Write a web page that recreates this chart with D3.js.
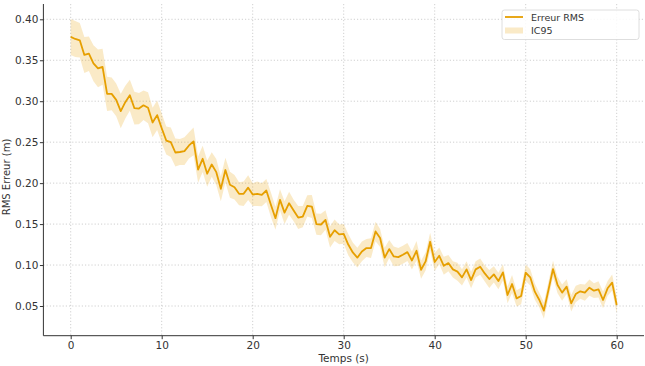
<!DOCTYPE html>
<html>
<head>
<meta charset="utf-8">
<script src="https://cdn.jsdelivr.net/npm/d3@7/dist/d3.min.js"></script>
<style>
  html, body { margin: 0; padding: 0; background: #fff; }
  svg { display: block; }
  text { font-family: "DejaVu Sans", sans-serif; fill: #333; }
</style>
</head>
<body>
<svg id="chart" width="645" height="366"></svg>
<script>
// ---- data ----
const times = d3.range(0, 60.001, 0.5);
const rmsError = [
  0.3785, 0.376, 0.3744, 0.3565, 0.358, 0.3463, 0.340, 0.342, 0.309, 0.309,
  0.3016, 0.288, 0.2988, 0.3073, 0.2915, 0.291, 0.295, 0.292, 0.274, 0.283,
  0.267, 0.252, 0.250, 0.2374, 0.238, 0.239, 0.246, 0.251, 0.2165, 0.2297,
  0.2115, 0.2228, 0.2134, 0.193, 0.216, 0.198, 0.195, 0.187, 0.187, 0.1945,
  0.186, 0.187, 0.1857, 0.191, 0.1735, 0.1572, 0.1796, 0.164, 0.1755, 0.1666,
  0.158, 0.1592, 0.1723, 0.1714, 0.150, 0.1495, 0.155, 0.1345, 0.1425, 0.1375,
  0.138, 0.125, 0.1154, 0.109, 0.1166, 0.1207, 0.1207, 0.141, 0.133, 0.109,
  0.1195, 0.1105, 0.1097, 0.1126, 0.1158, 0.1056, 0.1174, 0.0942, 0.1044, 0.1284,
  0.1036, 0.1113, 0.0991, 0.1024, 0.0947, 0.0919, 0.085, 0.0947, 0.0817, 0.0947,
  0.098, 0.0898, 0.0829, 0.0886, 0.0805, 0.091, 0.0634, 0.0768, 0.0593, 0.0622,
  0.0906, 0.085, 0.0675, 0.0573, 0.0443, 0.0695, 0.0951, 0.0756, 0.0663, 0.0736,
  0.0533, 0.0646, 0.0679, 0.0663, 0.0724, 0.0687, 0.0703, 0.0573, 0.0716, 0.0785,
  0.0512
];
const ciHalf = [
  0.022, 0.022, 0.021, 0.022, 0.021, 0.022, 0.023, 0.022, 0.021, 0.020,
  0.020, 0.021, 0.020, 0.019, 0.020, 0.019, 0.018, 0.019, 0.018, 0.018,
  0.018, 0.017, 0.018, 0.017, 0.016, 0.017, 0.016, 0.017, 0.016, 0.016,
  0.016, 0.015, 0.016, 0.015, 0.015, 0.016, 0.015, 0.014, 0.015, 0.015,
  0.014, 0.015, 0.014, 0.014, 0.015, 0.014, 0.013, 0.014, 0.014, 0.013,
  0.014, 0.013, 0.013, 0.014, 0.013, 0.013, 0.012, 0.013, 0.013, 0.012,
  0.012, 0.013, 0.012, 0.012, 0.012, 0.011, 0.012, 0.012, 0.011, 0.012,
  0.011, 0.012, 0.011, 0.011, 0.011, 0.011, 0.012, 0.011, 0.011, 0.011,
  0.011, 0.010, 0.011, 0.010, 0.010, 0.011, 0.010, 0.010, 0.010, 0.010,
  0.010, 0.010, 0.011, 0.010, 0.010, 0.010, 0.010, 0.011, 0.010, 0.010,
  0.010, 0.010, 0.010, 0.009, 0.010, 0.010, 0.010, 0.010, 0.010, 0.009,
  0.010, 0.010, 0.009, 0.010, 0.010, 0.009, 0.010, 0.010, 0.009, 0.010,
  0.010
];
const xTicks = [0, 10, 20, 30, 40, 50, 60];
const yTicks = [0.05, 0.10, 0.15, 0.20, 0.25, 0.30, 0.35, 0.40];
const legendLabels = ["Erreur RMS", "IC95"];
const xLabel = "Temps (s)";
const yLabel = "RMS Erreur (m)";

// ---- layout ----
const lineColor = "#E69F00";
const plot = { left: 43.4, right: 644, top: 4, bottom: 335.7 };
const svg = d3.select("#chart");

const x = d3.scaleLinear().domain([-3, 63]).range([plot.left, plot.right]);
const y = d3.scaleLinear().domain([0.05, 0.40]).range([306, 19.3]);

const data = times.map((t, i) => ({ t, v: rmsError[i], h: ciHalf[i] }));

// grid
const grid = svg.append("g");
grid.selectAll(".gx").data(xTicks).join("line")
  .attr("x1", d => x(d)).attr("x2", d => x(d))
  .attr("y1", plot.top).attr("y2", plot.bottom)
  .attr("stroke", "#c4c4c4").attr("stroke-width", 0.8).attr("stroke-dasharray", "1.2,2");
grid.selectAll(".gy").data(yTicks).join("line")
  .attr("x1", plot.left).attr("x2", plot.right)
  .attr("y1", d => y(d)).attr("y2", d => y(d))
  .attr("stroke", "#c4c4c4").attr("stroke-width", 0.8).attr("stroke-dasharray", "1.2,2");

// band
svg.append("path").datum(data)
  .attr("fill", lineColor).attr("fill-opacity", 0.22)
  .attr("d", d3.area().x(d => x(d.t)).y0(d => y(d.v - d.h)).y1(d => y(d.v + d.h)));

// line
svg.append("path").datum(data)
  .attr("fill", "none").attr("stroke", lineColor).attr("stroke-width", 1.8)
  .attr("stroke-linejoin", "round")
  .attr("d", d3.line().x(d => x(d.t)).y(d => y(d.v)));

// axes
const xAxis = svg.append("g").attr("transform", `translate(0,${plot.bottom})`)
  .call(d3.axisBottom(x).tickValues(xTicks).tickFormat(d3.format("d")).tickSize(3.5).tickPadding(2.5));
const yAxis = svg.append("g").attr("transform", `translate(${plot.left},0)`)
  .call(d3.axisLeft(y).tickValues(yTicks).tickFormat(d3.format(".2f")).tickSize(3.5).tickPadding(1.5));
[xAxis, yAxis].forEach(a => {
  a.select(".domain").attr("stroke", "#333").attr("stroke-width", 1);
  a.selectAll(".tick line").attr("stroke", "#333");
  a.selectAll(".tick text").attr("font-size", 10.5).attr("fill", "#333")
    .attr("font-family", "DejaVu Sans, sans-serif");
});
xAxis.select(".domain").attr("d", `M${plot.left},0H${plot.right}`);
yAxis.select(".domain").attr("d", `M0,${plot.top}V${plot.bottom}`);

// axis labels
svg.append("text").attr("x", x(30)).attr("y", 361.5)
  .attr("text-anchor", "middle").attr("font-size", 10.5).text(xLabel);
svg.append("text").attr("transform", "translate(10,177) rotate(-90)")
  .attr("text-anchor", "middle").attr("font-size", 10).text(yLabel);

// legend
const lg = svg.append("g").attr("transform", "translate(502,10)");
lg.append("rect").attr("x", 0).attr("y", 0).attr("width", 137).attr("height", 29.5)
  .attr("rx", 2.5).attr("fill", "#fff").attr("fill-opacity", 0.85)
  .attr("stroke", "#d6d6d6").attr("stroke-width", 0.8);
lg.append("line").attr("x1", 3).attr("x2", 21).attr("y1", 7).attr("y2", 7)
  .attr("stroke", lineColor).attr("stroke-width", 1.8);
lg.append("rect").attr("x", 3).attr("y", 17.5).attr("width", 18).attr("height", 6)
  .attr("fill", lineColor).attr("fill-opacity", 0.22);
lg.selectAll(".lt").data(legendLabels).join("text")
  .attr("x", 29).attr("y", (d, i) => 10.5 + i * 13.5)
  .attr("font-size", 9.5).text(d => d);
</script>
</body>
</html>
